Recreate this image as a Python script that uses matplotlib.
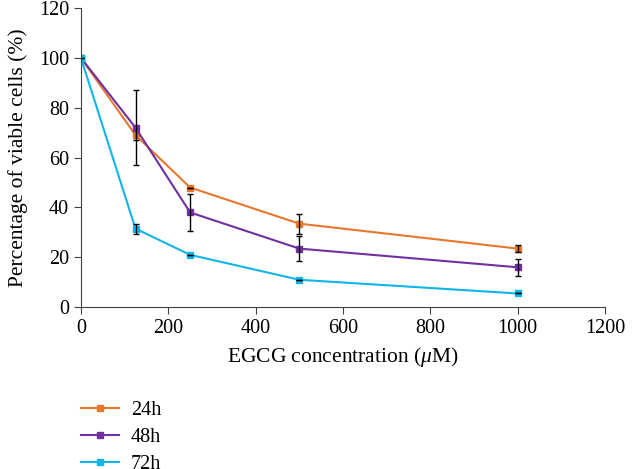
import matplotlib
matplotlib.use('Agg')
import matplotlib.pyplot as plt

plt.rcParams['font.family'] = ['Liberation Serif', 'DejaVu Serif']
plt.rcParams['mathtext.fontset'] = 'custom'
plt.rcParams['mathtext.it'] = 'Liberation Serif:italic'

# 数据
conc = [0, 125, 250, 500, 1000]
v24 = [100, 69, 48, 33.5, 23.5]
e24 = [0, 2, 0, 4, 1.5]
v48 = [100, 72, 38, 23.5, 16]
e48 = [0, 15, 7.5, 5, 3.5]
v72 = [100, 31.5, 21, 11, 5.5]
e72 = [0, 2, 0, 0, 0]
labels = ['24h', '48h', '72h']
colors = ['#E8772E', '#7030A0', '#12B5EA']

fig = plt.figure(figsize=(6.37, 4.69), dpi=100)
ax = fig.add_axes([0.127, 0.345, 0.823, 0.638])

for v, e, c, lab in zip([v24, v48, v72], [e24, e48, e72], colors, labels):
    ax.plot(conc, v, color=c, marker='s', markersize=5, linewidth=1.5, label=lab)
    ax.errorbar(conc, v, yerr=e, fmt='none', ecolor='black', elinewidth=1,
                capsize=2.5, capthick=1)

ax.set_xlim(0, 1200)
ax.set_ylim(0, 120)
ax.set_xticks(range(0, 1201, 200))
ax.set_yticks(range(0, 121, 20))
ax.spines['top'].set_visible(False)
ax.spines['right'].set_visible(False)
ax.tick_params(labelsize=14.5, direction='out', length=5, color='#404040')
ax.spines['left'].set_color('#404040')
ax.spines['bottom'].set_color('#404040')
ax.set_xlabel(r'EGCG concentration ($\mu$M)', fontsize=15.5, labelpad=5)
ax.set_ylabel('Percentage of viable cells (%)', fontsize=15.5, labelpad=8)

ax.legend(loc='upper left', bbox_to_anchor=(-0.035, -0.252), frameon=False,
          fontsize=14.5, handlelength=1.9, handletextpad=0.6,
          labelspacing=0.4, markerscale=0.8)

plt.savefig('out.png', dpi=100)
